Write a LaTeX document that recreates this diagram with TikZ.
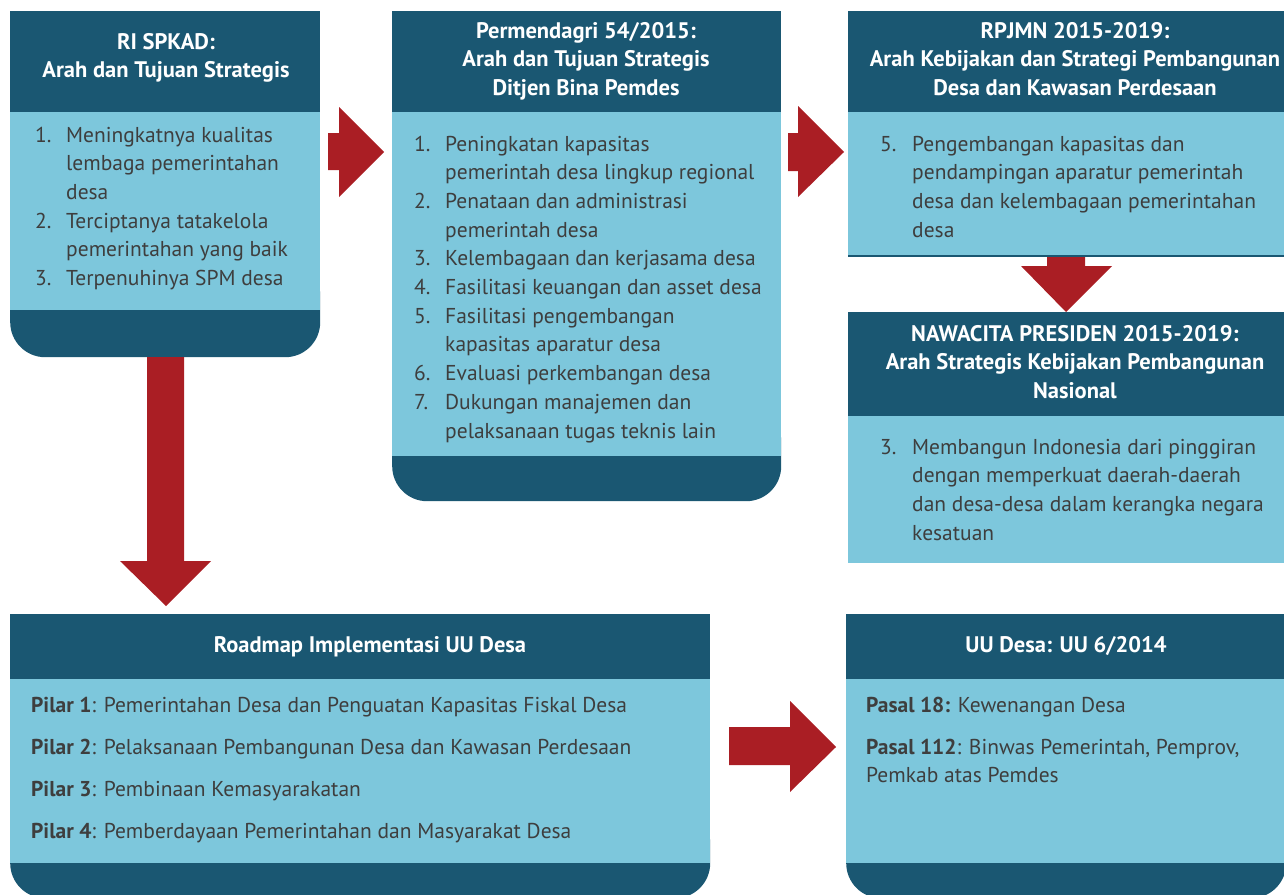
\documentclass[tikz,border=0pt]{standalone}
\usepackage{fontspec}
\setmainfont{PT Sans}
\definecolor{hdr}{RGB}{26,87,114}
\definecolor{bdy}{RGB}{125,199,220}
\definecolor{arr}{RGB}{170,30,36}
\definecolor{txt}{RGB}{62,62,62}
\newcommand\numitem[2]{\makebox[31pt][l]{#1}#2}
\newcommand\contitem[1]{\hspace*{31pt}#1}
\newcommand\numitemw[2]{\makebox[32pt][l]{#1}#2}
\newcommand\contitemw[1]{\hspace*{32pt}#1}
\tikzset{
  hdrbox/.style={fill=hdr, draw=none, inner sep=0pt, anchor=north west},
  bdybox/.style={fill=bdy, draw=none, inner sep=0pt, anchor=north west},
  footbox/.style={fill=hdr, draw=none, inner sep=0pt, anchor=north west, rounded corners=35pt},
  blockarrow/.style={fill=arr, draw=none},
  htext/.style={text=white, font=\bfseries\fontsize{22.5}{28.5}\selectfont, inner sep=0pt, anchor=base},
  btext/.style={text=txt, font=\fontsize{21.5}{28.7}\selectfont, inner sep=0pt, anchor=base west},
}
\begin{document}
\begin{tikzpicture}[x=1pt,y=-1pt]
\useasboundingbox (0,0) rectangle (1284,894);
\begin{scope}
\clip (0,0) rectangle (1284,894);
% ---------- Box 1: RI SPKAD ----------
\node[footbox, minimum width=310pt, minimum height=97pt] (f1) at (10,260) {};
\node[hdrbox, minimum width=310pt, minimum height=101pt] (h1) at (10,11) {};
\node[bdybox, minimum width=310pt, minimum height=198pt] (b1) at (10,112) {};
\node[htext] (t1) at (166,49) {\parbox[t]{300pt}{\centering RI SPKAD:\\Arah dan Tujuan Strategis}};
\node[btext] (l1) at (35,142) {\parbox[t]{400pt}{%
\numitem{1.}{Meningkatnya kualitas}\\
\contitem{lembaga pemerintahan}\\
\contitem{desa}\\
\numitem{2.}{Terciptanya tatakelola}\\
\contitem{pemerintahan yang baik}\\
\numitem{3.}{Terpenuhinya SPM desa}}};
% ---------- Box 2: Permendagri ----------
\node[footbox, minimum width=389pt, minimum height=95pt] (f2) at (392,406) {};
\node[hdrbox, minimum width=389pt, minimum height=101pt] (h2) at (392,11) {};
\node[bdybox, minimum width=389pt, minimum height=344pt] (b2) at (392,112) {};
\node[htext] (t2) at (586,38) {\parbox[t]{380pt}{\centering Permendagri 54/2015:\\Arah dan Tujuan Strategis\\Ditjen Bina Pemdes}};
\node[btext] (l2) at (414,151) {\parbox[t]{400pt}{%
\numitem{1.}{Peningkatan kapasitas}\\
\contitem{pemerintah desa lingkup regional}\\
\numitem{2.}{Penataan dan administrasi}\\
\contitem{pemerintah desa}\\
\numitem{3.}{Kelembagaan dan kerjasama desa}\\
\numitem{4.}{Fasilitasi keuangan dan asset desa}\\
\numitem{5.}{Fasilitasi pengembangan}\\
\contitem{kapasitas aparatur desa}\\
\numitem{6.}{Evaluasi perkembangan desa}\\
\numitem{7.}{Dukungan manajemen dan}\\
\contitem{pelaksanaan tugas teknis lain}}};
% ---------- Box 3: RPJMN ----------
\node[hdrbox, minimum width=454pt, minimum height=101pt] (h3) at (848,11) {};
\node[bdybox, minimum width=454pt, minimum height=144pt] (b3) at (848,112) {};
\node[hdrbox, minimum width=454pt, minimum height=2pt] (e3) at (848,255) {};
\node[htext] (t3) at (1075,38) {\parbox[t]{450pt}{\centering RPJMN 2015-2019:\\Arah Kebijakan dan Strategi Pembangunan\\Desa dan Kawasan Perdesaan}};
\node[btext] (l3) at (880,151) {\parbox[t]{420pt}{%
\numitemw{5.}{Pengembangan kapasitas dan}\\
\contitemw{pendampingan aparatur pemerintah}\\
\contitemw{desa dan kelembagaan pemerintahan}\\
\contitemw{desa}}};
% ---------- Box 4: NAWACITA ----------
\node[hdrbox, minimum width=454pt, minimum height=104pt] (h4) at (848,312) {};
\node[bdybox, minimum width=454pt, minimum height=147pt] (b4) at (848,416) {};
\node[htext] (t4) at (1075,341) {\parbox[t]{450pt}{\centering NAWACITA PRESIDEN 2015-2019:\\Arah Strategis Kebijakan Pembangunan\\Nasional}};
\node[btext] (l4) at (880,454) {\parbox[t]{420pt}{%
\numitemw{3.}{Membangun Indonesia dari pinggiran}\\
\contitemw{dengan memperkuat daerah-daerah}\\
\contitemw{dan desa-desa dalam kerangka negara}\\
\contitemw{kesatuan}}};
% ---------- Box 5: Roadmap ----------
\node[footbox, minimum width=700pt, minimum height=90pt] (f5) at (10,808) {};
\node[hdrbox, minimum width=700pt, minimum height=65pt] (h5) at (10,614) {};
\node[bdybox, minimum width=700pt, minimum height=184pt] (b5) at (10,679) {};
\node[htext] (t5) at (370,652) {Roadmap Implementasi UU Desa};
\node[btext, font=\fontsize{21.5}{42}\selectfont] (l5) at (31,712) {\parbox[t]{680pt}{%
\textbf{Pilar 1}: Pemerintahan Desa dan Penguatan Kapasitas Fiskal Desa\\
\textbf{Pilar 2}: Pelaksanaan Pembangunan Desa dan Kawasan Perdesaan\\
\textbf{Pilar 3}: Pembinaan Kemasyarakatan\\
\textbf{Pilar 4}: Pemberdayaan Pemerintahan dan Masyarakat Desa}};
% ---------- Box 6: UU Desa ----------
\node[footbox, minimum width=440pt, minimum height=90pt] (f6) at (846,808) {};
\node[hdrbox, minimum width=440pt, minimum height=65pt] (h6) at (846,614) {};
\node[bdybox, minimum width=440pt, minimum height=184pt] (b6) at (846,679) {};
\node[htext] (t6) at (1066,652) {UU Desa: UU 6/2014};
\node[btext, font=\fontsize{21.5}{28}\selectfont] (l6) at (866,712) {\parbox[t]{420pt}{%
\textbf{Pasal 18:} Kewenangan Desa\\[14pt]
\textbf{Pasal 112}: Binwas Pemerintah, Pemprov,\\
Pemkab atas Pemdes}};
% ---------- Block arrows ----------
\fill[blockarrow] (328,133) -- (339,133) -- (339,107) -- (384,152) -- (339,197) -- (339,170) -- (328,170) -- cycle;
\fill[blockarrow] (788,133) -- (798,133) -- (798,106) -- (844,152) -- (798,197) -- (798,171) -- (788,171) -- cycle;
\fill[blockarrow] (1047,257) -- (1085,257) -- (1085,266) -- (1112,266) -- (1066,312) -- (1021,266) -- (1047,266) -- cycle;
\fill[blockarrow] (147,357) -- (184,357) -- (184,561) -- (211,561) -- (166,606) -- (120,561) -- (147,561) -- cycle;
\fill[blockarrow] (729,727) -- (790,727) -- (790,701) -- (836,747) -- (790,792) -- (790,765) -- (729,765) -- cycle;
\end{scope}
\end{tikzpicture}
\end{document}
